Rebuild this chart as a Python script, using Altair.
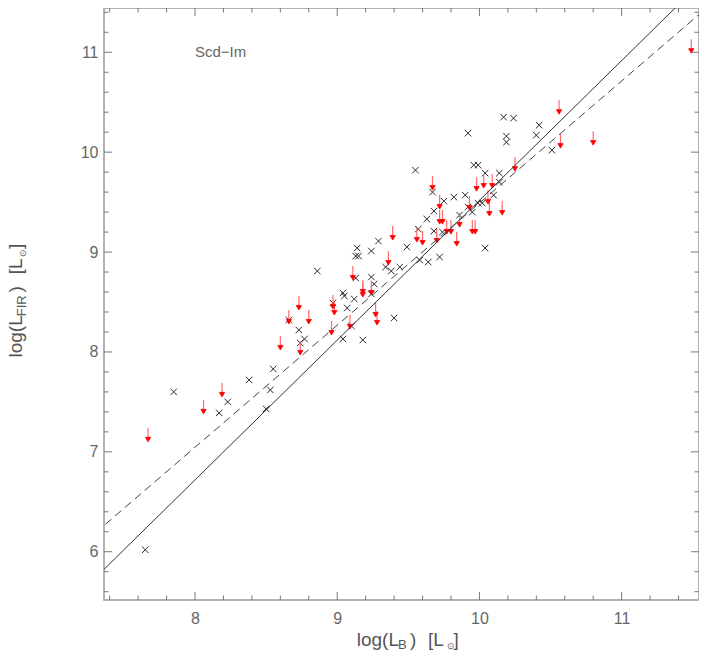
import altair as alt
import pandas as pd

# ---------------- data ----------------
cross_x = [7.65, 7.85, 8.17, 8.23, 8.38, 8.50, 8.53, 8.55, 8.66, 8.73, 8.77, 8.74,
           8.86, 8.97, 9.04, 9.05, 9.07, 9.12, 9.10, 9.04, 9.14, 9.13, 9.15, 9.24,
           9.29, 9.24, 9.26, 9.24, 9.18, 9.34, 9.38, 9.44, 9.40, 9.49, 9.58, 9.64,
           9.72, 9.57, 9.68, 9.74, 9.63, 9.68, 9.67, 9.55, 9.75, 9.82, 9.90, 9.86,
           9.92, 9.96, 9.99, 10.04, 10.14, 10.14, 10.10, 9.99, 10.02, 9.92, 9.95,
           10.04, 10.19, 10.19, 10.17, 10.24, 10.40, 10.42, 10.51, 9.13]
cross_y = [6.02, 7.60, 7.39, 7.50, 7.72, 7.43, 7.62, 7.83, 8.32, 8.22, 8.13, 8.09,
           8.81, 8.49, 8.59, 8.56, 8.44, 8.53, 8.26, 8.13, 9.04, 8.96, 8.96, 9.01,
           9.11, 8.75, 8.68, 8.58, 8.12, 8.85, 8.81, 8.85, 8.34, 9.05, 8.92, 8.90,
           8.95, 9.23, 9.21, 9.20, 9.33, 9.41, 9.60, 9.82, 9.51, 9.55, 9.57, 9.37,
           10.19, 9.87, 9.87, 9.79, 9.79, 9.70, 9.57, 9.49, 9.49, 9.45, 9.40,
           9.04, 10.16, 10.10, 10.35, 10.34, 10.17, 10.27, 10.02, 8.74]

limit_x = [7.67, 8.06, 8.19, 8.60, 8.66, 8.73, 8.80, 8.74, 8.97, 8.98, 9.09, 8.96,
           9.18, 9.11, 9.18, 9.24, 9.27, 9.28, 9.36, 9.39, 9.56, 9.60, 9.70, 9.84,
           9.67, 9.72, 9.72, 9.74, 9.77, 9.80, 9.86, 9.95, 9.97, 9.98, 10.03, 10.09,
           9.93, 10.06, 10.07, 10.16, 10.25, 10.56, 10.57, 10.80, 11.49]
limit_y = [7.17, 7.45, 7.62, 8.09, 8.35, 8.49, 8.35, 8.04, 8.50, 8.44, 8.30, 8.24,
           8.62, 8.79, 8.65, 8.64, 8.42, 8.34, 8.94, 9.19, 9.17, 9.14, 9.16, 9.13,
           9.69, 9.50, 9.35, 9.35, 9.25, 9.25, 9.32, 9.25, 9.25, 9.68, 9.71, 9.71,
           9.49, 9.55, 9.43, 9.44, 9.88, 10.45, 10.11, 10.14, 11.06]

# fit lines (end points)
solid_x = [7.30, 11.41]
solid_y = [5.74, 11.49]
dashed_x = [7.30, 11.595]
dashed_y = [6.19, 11.44]

# axis ticks
x_major = [8, 9, 10, 11]
y_major = [6, 7, 8, 9, 10, 11]
x_minor = [7.4, 7.6, 7.8, 8.2, 8.4, 8.6, 8.8, 9.2, 9.4, 9.6, 9.8, 10.2, 10.4,
           10.6, 10.8, 11.2, 11.4]
y_minor = [5.6, 5.8, 6.2, 6.4, 6.6, 6.8, 7.2, 7.4, 7.6, 7.8, 8.2, 8.4, 8.6, 8.8,
           9.2, 9.4, 9.6, 9.8, 10.2, 10.4, 10.6, 10.8, 11.2, 11.4]

panel_label = ["Scd\u2212Im"]
panel_label_x = [8.0]
panel_label_y = [11.0]

x_title_parts = ["log(L", "B", ")", "[L", "\u2299", "]"]
y_title_parts = ["log(L", "FIR", ")", "[L", "\u2299", "]"]
title_is_sub = [False, True, False, False, True, False]

# ---------------- layout ----------------
W, H = 595, 592
X_DOMAIN = [7.36, 11.544]
Y_DOMAIN = [5.517, 11.443]
FONT = "Liberation Sans"
TXT = "#666666"
TICK = "#777777"
MAJ, MIN = 8, 4.5

xs = alt.Scale(domain=X_DOMAIN, nice=False, zero=False)
ys = alt.Scale(domain=Y_DOMAIN, nice=False, zero=False)

x_axis = alt.Axis(values=x_major, ticks=False, tickSize=0, domain=False, grid=False,
                  labelFont=FONT, labelFontSize=16, labelColor=TXT, labelPadding=10,
                  title="")
y_axis = alt.Axis(values=y_major, ticks=False, tickSize=0, domain=False, grid=False,
                  labelFont=FONT, labelFontSize=16, labelColor=TXT, labelPadding=6,
                  title="")


def X(field="x"):
    return alt.X(f"{field}:Q", scale=xs, axis=x_axis)


def Y(field="y"):
    return alt.Y(f"{field}:Q", scale=ys, axis=y_axis)


cross_df = pd.DataFrame({"x": cross_x, "y": cross_y})
limit_df = pd.DataFrame({"x": limit_x, "y": limit_y})

CROSS = "M-1,-1L1,1M-1,1L1,-1"
SHAFT = "M0,-1L0,0.45"
HEAD = "M-0.38,0.35L0,1L0.38,0.35Z"

layers = []

crosses = alt.Chart(cross_df).mark_point(
    shape=CROSS, size=42, filled=False, stroke="#2a2a2a", strokeWidth=1, opacity=1
).encode(x=X(), y=Y())
layers.append(crosses)

shafts = alt.Chart(limit_df).mark_point(
    shape=SHAFT, size=196, filled=False, stroke="#ff6a6a", strokeWidth=1.2, opacity=1
).encode(x=X(), y=Y())
heads = alt.Chart(limit_df).mark_point(
    shape=HEAD, size=196, filled=True, fill="#ff0000", stroke="#ff0000",
    strokeWidth=0.8, opacity=1
).encode(x=X(), y=Y())
layers += [shafts, heads]

solid = alt.Chart(pd.DataFrame({"x": solid_x, "y": solid_y})).mark_line(
    clip=True, color="#333333", strokeWidth=1
).encode(x=X(), y=Y())
dashed = alt.Chart(pd.DataFrame({"x": dashed_x, "y": dashed_y})).mark_line(
    clip=True, color="#444444", strokeWidth=1, strokeDash=[8, 5]
).encode(x=X(), y=Y())
layers += [solid, dashed]


def xticks(vals, length):
    df = pd.DataFrame({"x": vals})
    bottom = alt.Chart(df).mark_rule(color=TICK, strokeWidth=1).encode(
        x=X(), y=alt.value(H), y2=alt.value(H - length))
    top = alt.Chart(df).mark_rule(color=TICK, strokeWidth=1).encode(
        x=X(), y=alt.value(0), y2=alt.value(length))
    return [bottom, top]


def yticks(vals, length):
    df = pd.DataFrame({"y": vals})
    left = alt.Chart(df).mark_rule(color=TICK, strokeWidth=1).encode(
        y=Y(), x=alt.value(0), x2=alt.value(length))
    right = alt.Chart(df).mark_rule(color=TICK, strokeWidth=1).encode(
        y=Y(), x=alt.value(W), x2=alt.value(W - length))
    return [left, right]


layers += xticks(x_major, MAJ) + xticks(x_minor, MIN)
layers += yticks(y_major, MAJ) + yticks(y_minor, MIN)

label = alt.Chart(pd.DataFrame({"x": panel_label_x, "y": panel_label_y,
                                "t": panel_label})).mark_text(
    align="left", baseline="middle", font=FONT, fontSize=15, color=TXT
).encode(x=X(), y=Y(), text="t:N")
layers.append(label)

# axis titles with subscripts (positions in pixels of the plot area)
x_title_pos = [252.7, 294.0, 306.0, 324.0, 342.5, 349.5]
X_TITLE_BASE = 638.0
y_title_pos = [349.5, 308.2, 284.5, 266.2, 248.5, 241.0]
Y_TITLE_BASE = -82.5


def title_size(part, sub):
    if part == "\u2299":
        return 9
    return 13 if sub else 19


for part, pos, sub in zip(x_title_parts, x_title_pos, title_is_sub):
    layers.append(
        alt.Chart(pd.DataFrame({"t": [part]})).mark_text(
            align="left", baseline="alphabetic", font=FONT,
            fontSize=title_size(part, sub), color="#555555"
        ).encode(x=alt.value(pos), y=alt.value(X_TITLE_BASE + (3 if sub else 0)),
                 text="t:N"))

for part, pos, sub in zip(y_title_parts, y_title_pos, title_is_sub):
    layers.append(
        alt.Chart(pd.DataFrame({"t": [part]})).mark_text(
            align="left", baseline="alphabetic", font=FONT, angle=270,
            fontSize=title_size(part, sub), color="#555555"
        ).encode(x=alt.value(Y_TITLE_BASE + (4 if sub else 0)), y=alt.value(pos),
                 text="t:N"))

chart = alt.layer(*layers).properties(
    width=W, height=H,
    autosize=alt.AutoSizeParams(type="none"),
    padding={"left": 96, "top": 0, "right": 0, "bottom": 52},
).configure_view(stroke="#999999", strokeWidth=1.5)

chart.save("out.html", embed_options={"renderer": "svg", "actions": False})
